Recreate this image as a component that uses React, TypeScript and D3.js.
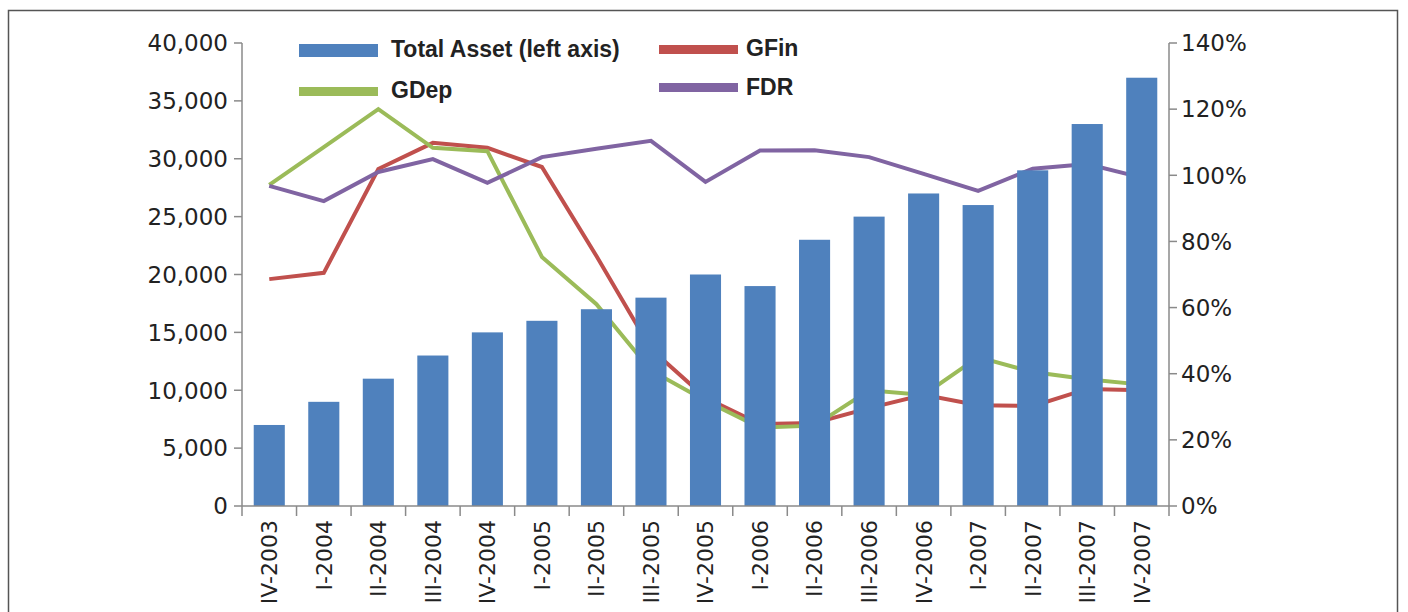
import React from "react";
import { scaleBand, scaleLinear, line } from "d3";

// quarters on the x axis
const quarters = [
  "IV-2003", "I-2004", "II-2004", "III-2004", "IV-2004",
  "I-2005", "II-2005", "III-2005", "IV-2005",
  "I-2006", "II-2006", "III-2006", "IV-2006",
  "I-2007", "II-2007", "III-2007", "IV-2007",
];

// Total Asset (left axis)
const totalAsset = [
  7000, 9000, 11000, 13000, 15000, 16000, 17000, 18000, 20000,
  19000, 23000, 25000, 27000, 26000, 29000, 33000, 37000,
];

// right axis, percent
const gFin = [
  68.6, 70.5, 101.9, 109.8, 108.3, 102.5, 75.6, 47.5, 32.7,
  24.8, 25.1, 29.6, 33.6, 30.5, 30.2, 35.4, 35.0,
];
const gDep = [
  97.1, 108.5, 120.0, 108.3, 107.3, 75.3, 61.0, 41.0, 31.8,
  23.7, 24.3, 35.0, 33.6, 45.0, 40.5, 38.3, 36.7,
];
const fdr = [
  96.8, 92.2, 101.0, 104.9, 97.7, 105.5, 108.0, 110.4, 98.0,
  107.5, 107.6, 105.5, 100.4, 95.3, 102.0, 103.4, 99.3,
];

const leftTicks = [0, 5000, 10000, 15000, 20000, 25000, 30000, 35000, 40000];
const rightTicks = [0, 20, 40, 60, 80, 100, 120, 140];

const width = 1408;
const height = 612;
const plot = { left: 242, right: 1169, top: 43, bottom: 506 };

const colors = {
  asset: "#4F81BD",
  gFin: "#C0504D",
  gDep: "#9BBB59",
  fdr: "#8064A2",
};

const axisColor = "#8a8a8a";
const tickFont = "'DejaVu Sans', Verdana, sans-serif";
const legendFont = "'Liberation Sans Narrow', 'Arial Narrow', 'Liberation Sans', Arial, sans-serif";

const App = () => {
  const xScale = scaleBand<string>()
    .domain(quarters)
    .range([plot.left, plot.right])
    .padding(0);

  const yLeft = scaleLinear().domain([0, 40000]).range([plot.bottom, plot.top]);
  const yRight = scaleLinear().domain([0, 140]).range([plot.bottom, plot.top]);

  const step = xScale.bandwidth();
  const barW = step * 0.57;
  const cx = (q: string) => (xScale(q) as number) + step / 2;

  const pctLine = line<number>()
    .x((_, i) => cx(quarters[i]))
    .y((d) => yRight(d));

  const series = [
    { values: gFin, color: colors.gFin },
    { values: gDep, color: colors.gDep },
    { values: fdr, color: colors.fdr },
  ];

  const fmt = (v: number) => v.toLocaleString("en-US");

  return (
    <svg
      width={width}
      height={height}
      style={{ position: "absolute", left: 0, top: 0, background: "#fff" }}
    >
      <rect x={8.5} y={10.5} width={1389} height={700} fill="#fff" stroke="#555" strokeWidth={1.5} />

      {/* lines sit behind the bars */}
      {series.map((s, i) => (
        <path
          key={i}
          d={pctLine(s.values) as string}
          fill="none"
          stroke={s.color}
          strokeWidth={4}
          strokeLinejoin="miter"
        />
      ))}

      {/* bars */}
      {quarters.map((q, i) => (
        <rect
          key={q}
          x={cx(q) - barW / 2}
          y={yLeft(totalAsset[i])}
          width={barW}
          height={yLeft(0) - yLeft(totalAsset[i])}
          fill={colors.asset}
        />
      ))}

      {/* x axis */}
      <line x1={plot.left} x2={plot.right} y1={plot.bottom} y2={plot.bottom} stroke={axisColor} strokeWidth={1.5} />
      {quarters.map((q) => (
        <line
          key={"t" + q}
          x1={xScale(q)}
          x2={xScale(q)}
          y1={plot.bottom}
          y2={plot.bottom + 10}
          stroke={axisColor}
          strokeWidth={1.5}
        />
      ))}
      <line x1={plot.right} x2={plot.right} y1={plot.bottom} y2={plot.bottom + 10} stroke={axisColor} strokeWidth={1.5} />
      {quarters.map((q) => (
        <text
          key={"l" + q}
          transform={`translate(${cx(q)},${plot.bottom + 14}) rotate(-90)`}
          textAnchor="end"
          dy="0.36em"
          fontFamily={tickFont}
          fontSize={22}
          fill="#222"
        >
          {q}
        </text>
      ))}

      {/* left axis */}
      <line x1={plot.left} x2={plot.left} y1={plot.top} y2={plot.bottom} stroke={axisColor} strokeWidth={1.5} />
      {leftTicks.map((t) => (
        <g key={"lt" + t}>
          <line x1={plot.left - 8} x2={plot.left} y1={yLeft(t)} y2={yLeft(t)} stroke={axisColor} strokeWidth={1.5} />
          <text
            x={plot.left - 14}
            y={yLeft(t)}
            dy="0.36em"
            textAnchor="end"
            fontFamily={tickFont}
            fontSize={23}
            fill="#222"
          >
            {fmt(t)}
          </text>
        </g>
      ))}

      {/* right axis */}
      <line x1={plot.right} x2={plot.right} y1={plot.top} y2={plot.bottom} stroke={axisColor} strokeWidth={1.5} />
      {rightTicks.map((t) => (
        <g key={"rt" + t}>
          <line x1={plot.right} x2={plot.right + 8} y1={yRight(t)} y2={yRight(t)} stroke={axisColor} strokeWidth={1.5} />
          <text
            x={plot.right + 12}
            y={yRight(t)}
            dy="0.36em"
            textAnchor="start"
            fontFamily={tickFont}
            fontSize={23}
            fill="#222"
          >
            {t}%
          </text>
        </g>
      ))}

      {/* legend */}
      <g fontFamily={legendFont} fontWeight="bold" fontSize={23} fill="#222">
        <rect x={299} y={44} width={79} height={13} fill={colors.asset} />
        <text x={391} y={57}>Total Asset (left axis)</text>
        <rect x={299} y={87} width={79} height={9} fill={colors.gDep} />
        <text x={391} y={98}>GDep</text>
        <rect x={659} y={45} width={79} height={9} fill={colors.gFin} />
        <text x={746} y={56}>GFin</text>
        <rect x={659} y={83} width={79} height={9} fill={colors.fdr} />
        <text x={746} y={95}>FDR</text>
      </g>
    </svg>
  );
};

export default App;
